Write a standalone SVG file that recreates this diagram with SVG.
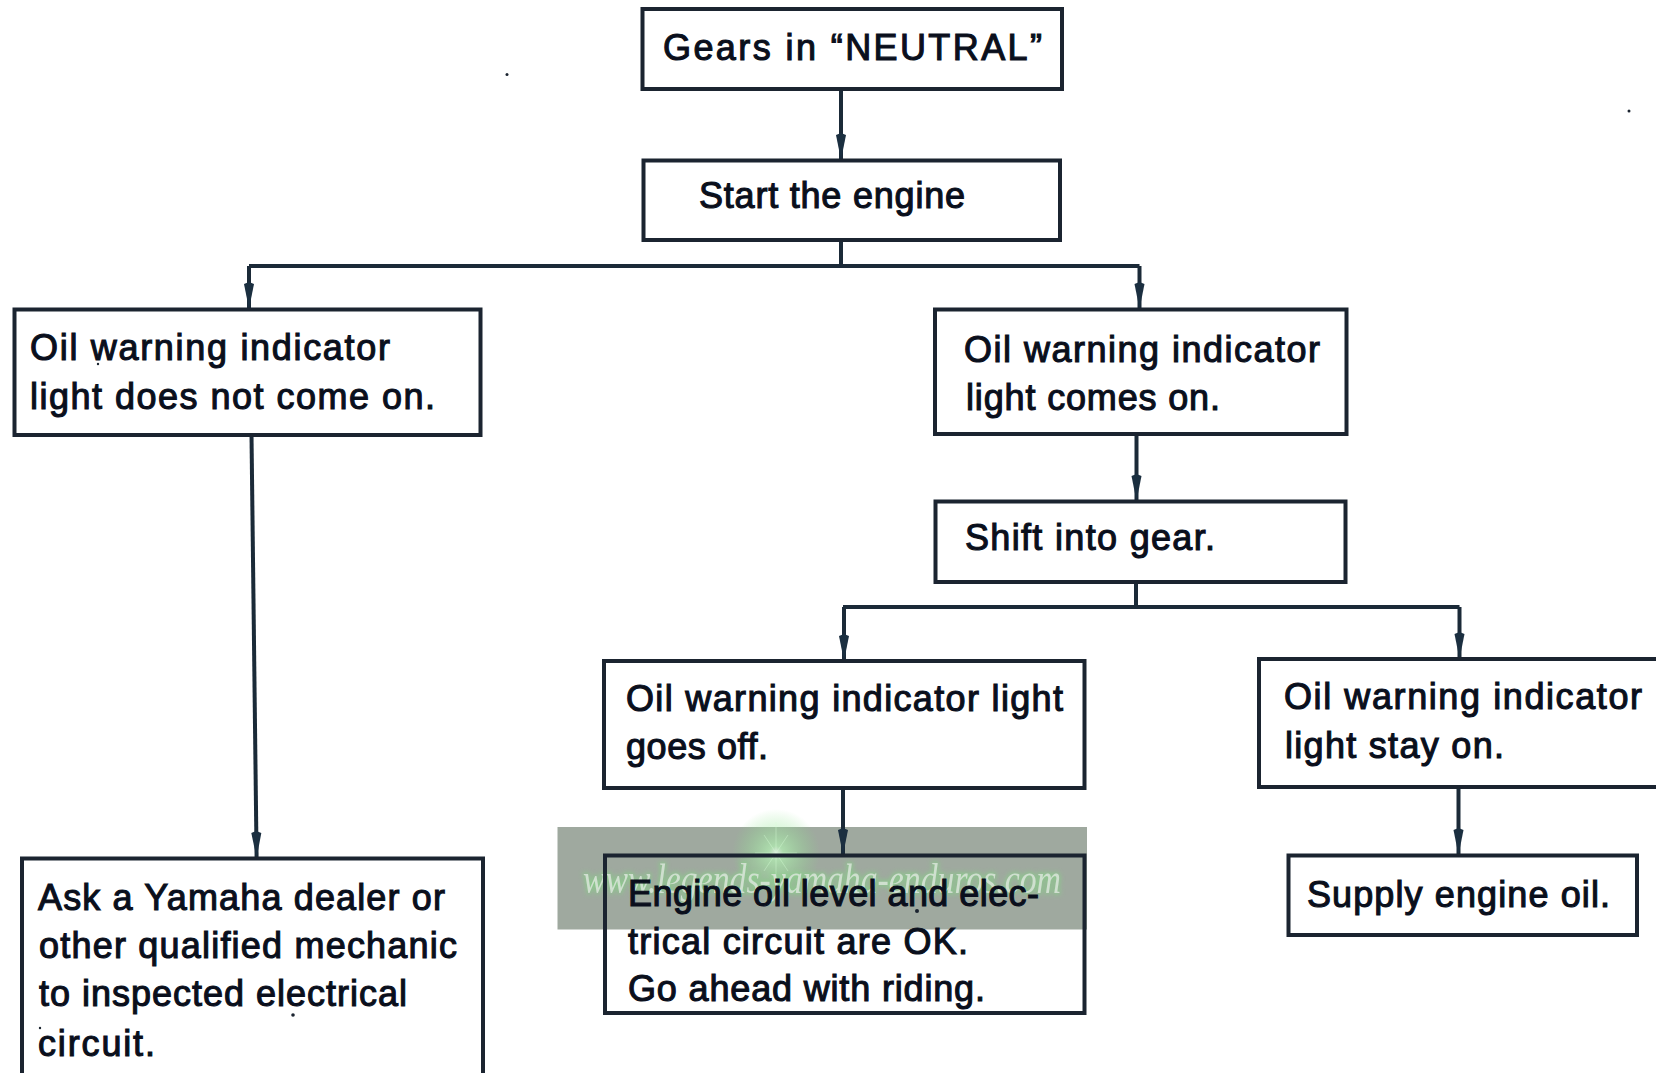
<svg xmlns="http://www.w3.org/2000/svg" width="1656" height="1073" viewBox="0 0 1656 1073">
<style>
.b{fill:#fff;stroke:#1b2430;stroke-width:4}
.t{font-family:"Liberation Sans",Arial,sans-serif;font-size:36px;fill:#0a0f1c;stroke:#0a0f1c;stroke-width:1.1}
.c{fill:none;stroke:#1b2a38;stroke-width:4}
.w{font-family:"Liberation Serif",serif;font-style:italic;font-size:42px;fill:#dfe8df}
</style>
<defs>
<marker id="ah" markerUnits="userSpaceOnUse" markerWidth="30" markerHeight="14" refX="27" refY="6" orient="auto"><path d="M0,6 L2,1 L27,6 L2,11 Z" fill="#1b2f40"/></marker>
<radialGradient id="g"><stop offset="0" stop-color="#f4fff4"/><stop offset=".16" stop-color="#b4f4b4" stop-opacity=".9"/><stop offset="1" stop-color="#84e084" stop-opacity="0"/></radialGradient>
<filter id="gl" x="-5%" y="-40%" width="110%" height="180%"><feGaussianBlur stdDeviation="2.500"/></filter>
<filter id="sf" x="-5%" y="-40%" width="110%" height="180%"><feGaussianBlur stdDeviation=".7"/></filter>
</defs>
<rect width="1656" height="1073" fill="#fff"/>
<g id="watermark">
<rect x="557.500" y="827" width="529.500" height="102.500" fill="#9fa99f"/>
<circle cx="776" cy="853" r="44" fill="url(#g)" opacity=".75"/>
<path d="M776,822V884M755,853H797M764,835L788,871M788,835L764,871" stroke="#d8ffd8" stroke-width=".8" opacity=".5"/>
<text class="w" x="583" y="893" textLength="478" lengthAdjust="spacingAndGlyphs" filter="url(#gl)" style="fill:#7fe07f;stroke:#7fe07f;stroke-width:2.500;opacity:.6">www.legends-yamaha-enduros.com</text>
<text class="w" x="583" y="893" textLength="478" lengthAdjust="spacingAndGlyphs" filter="url(#sf)" opacity=".8">www.legends-yamaha-enduros.com</text>
</g>
<g id="connectors">
<path class="c" d="M841,89V160" marker-end="url(#ah)"/>
<path class="c" d="M841,240V266M249,266H1139.500"/>
<path class="c" d="M249,266V309" marker-end="url(#ah)"/>
<path class="c" d="M1139.500,266V309" marker-end="url(#ah)"/>
<path class="c" d="M251.500,435L256.600,858" marker-end="url(#ah)"/>
<path class="c" d="M1136.500,434V501" marker-end="url(#ah)"/>
<path class="c" d="M1136,582V607M843,607H1459.500"/>
<path class="c" d="M844,607V661" marker-end="url(#ah)"/>
<path class="c" d="M1459.500,607V659" marker-end="url(#ah)"/>
<path class="c" d="M843,788V855" marker-end="url(#ah)"/>
<path class="c" d="M1458.500,787V855" marker-end="url(#ah)"/>
</g>
<g id="n1"><rect class="b" x="642.500" y="9" width="419.500" height="80"/><text class="t" x="663" y="60" textLength="379">Gears in “NEUTRAL”</text></g>
<g id="n2"><rect class="b" x="643.500" y="160.500" width="416.500" height="79.500"/><text class="t" x="699" y="208" textLength="266">Start the engine</text></g>
<g id="n3"><rect class="b" x="14.500" y="309.500" width="466" height="125.500"/><text class="t" x="30" y="360" textLength="360">Oil warning indicator</text><text class="t" x="30" y="408.500" textLength="405">light does not come on.</text></g>
<g id="n4"><rect class="b" x="935" y="309.500" width="411.500" height="124.500"/><text class="t" x="964" y="362" textLength="356">Oil warning indicator</text><text class="t" x="966" y="410" textLength="254">light comes on.</text></g>
<g id="n5"><rect class="b" x="935.500" y="501.500" width="410" height="80.500"/><text class="t" x="965" y="550" textLength="250">Shift into gear.</text></g>
<g id="n6"><rect class="b" x="604" y="661" width="480.500" height="127"/><text class="t" x="626" y="711" textLength="437">Oil warning indicator light</text><text class="t" x="626" y="758.500" textLength="142">goes off.</text></g>
<g id="n7"><rect class="b" x="1259" y="659" width="402" height="128"/><text class="t" x="1284" y="709" textLength="358">Oil warning indicator</text><text class="t" x="1285" y="757.500" textLength="219">light stay on.</text></g>
<g id="n8"><rect class="b" style="fill:none" x="605" y="855.500" width="479.500" height="157.500"/><text class="t" x="628" y="906" textLength="411">Engine oil level and elec-</text><text class="t" x="628" y="953.500" textLength="340">trical circuit are OK.</text><text class="t" x="628" y="1001" textLength="357">Go ahead with riding.</text></g>
<g id="n9"><rect class="b" x="1288.500" y="855.500" width="348.500" height="79.500"/><text class="t" x="1307" y="907" textLength="303">Supply engine oil.</text></g>
<g id="n10"><rect class="b" x="22" y="858.500" width="461" height="220"/><text class="t" x="38" y="910" textLength="407">Ask a Yamaha dealer or</text><text class="t" x="39" y="958" textLength="418">other qualified mechanic</text><text class="t" x="39" y="1006" textLength="368">to inspected electrical</text><text class="t" x="38" y="1056" textLength="117">circuit.</text></g>
<g id="specks" fill="#1b2430"><circle cx="507" cy="74.500" r="1.500"/><circle cx="1629" cy="111" r="1.500"/><circle cx="98" cy="364" r="1.200"/><circle cx="293" cy="1015" r="1.800"/><circle cx="40" cy="1028" r="1.200"/><circle cx="917" cy="911" r="2"/></g>
</svg>
